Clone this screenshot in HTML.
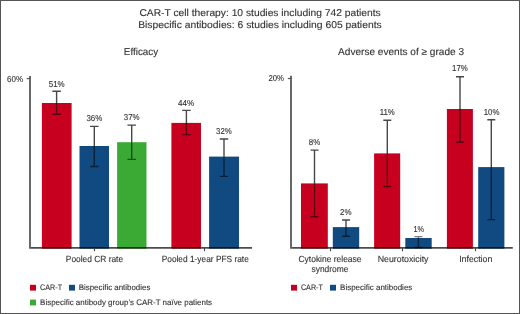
<!DOCTYPE html>
<html><head><meta charset="utf-8"><style>
html,body{margin:0;padding:0;background:#fff;}
#c{position:relative;width:518px;height:312px;border:1px solid #555;background:#fff;overflow:hidden;}
text{stroke:#333;stroke-width:0.12;}
svg{position:absolute;left:-1px;top:-1px;will-change:transform;text-rendering:geometricPrecision;font-family:"Liberation Sans",sans-serif;}
</style></head><body><div id="c">
<svg width="520" height="314" viewBox="0 0 520 314">
<text x="139.4" y="15.6" font-size="9.9" text-anchor="start" fill="#333333" textLength="241.3" lengthAdjust="spacingAndGlyphs">CAR-T cell therapy: 10 studies including 742 patients</text>
<text x="138.2" y="27.7" font-size="9.9" text-anchor="start" fill="#333333" textLength="243.5" lengthAdjust="spacingAndGlyphs">Bispecific antibodies: 6 studies including 605 patients</text>
<text x="123.8" y="55" font-size="10" text-anchor="start" fill="#333333" textLength="34.4" lengthAdjust="spacingAndGlyphs">Efficacy</text>
<text x="338.1" y="55" font-size="10" text-anchor="start" fill="#333333" textLength="125.9" lengthAdjust="spacingAndGlyphs">Adverse events of &#8805; grade 3</text>
<text x="7" y="81.5" font-size="8.6" text-anchor="start" fill="#333333" textLength="16" lengthAdjust="spacingAndGlyphs">60%</text>
<rect x="41.9" y="103.0" width="29.70" height="145.60" fill="#c70020"/>
<rect x="79.5" y="146" width="29.50" height="102.60" fill="#104a81"/>
<rect x="117.1" y="142.2" width="29.40" height="106.40" fill="#3aaa35"/>
<rect x="171.4" y="122.9" width="29.60" height="125.70" fill="#c70020"/>
<rect x="209.1" y="156.6" width="29.90" height="92.00" fill="#104a81"/>
<path d="M52.35 91.3H60.85M56.6 91.3V103.0" fill="none" stroke="#000" stroke-opacity="0.72" stroke-width="1.4"/><path d="M56.6 103.0V114.3M52.35 114.3H60.85" fill="none" stroke="#000" stroke-opacity="0.55" stroke-width="1.4"/>
<path d="M90.05 126.4H98.55M94.3 126.4V146" fill="none" stroke="#000" stroke-opacity="0.72" stroke-width="1.4"/><path d="M94.3 146V166.5M90.05 166.5H98.55" fill="none" stroke="#000" stroke-opacity="0.55" stroke-width="1.4"/>
<path d="M127.45 125.1H135.95M131.7 125.1V142.2" fill="none" stroke="#000" stroke-opacity="0.72" stroke-width="1.4"/><path d="M131.7 142.2V159.4M127.45 159.4H135.95" fill="none" stroke="#000" stroke-opacity="0.55" stroke-width="1.4"/>
<path d="M182.15 110.4H190.65M186.4 110.4V122.9" fill="none" stroke="#000" stroke-opacity="0.72" stroke-width="1.4"/><path d="M186.4 122.9V134.6M182.15 134.6H190.65" fill="none" stroke="#000" stroke-opacity="0.55" stroke-width="1.4"/>
<path d="M219.75 139H228.25M224.0 139V156.6" fill="none" stroke="#000" stroke-opacity="0.72" stroke-width="1.4"/><path d="M224.0 156.6V176.4M219.75 176.4H228.25" fill="none" stroke="#000" stroke-opacity="0.55" stroke-width="1.4"/>
<text x="48.7" y="86.5" font-size="8.6" text-anchor="start" fill="#333333" textLength="16.0" lengthAdjust="spacingAndGlyphs">51%</text>
<text x="86.4" y="121.2" font-size="8.6" text-anchor="start" fill="#333333" textLength="15.9" lengthAdjust="spacingAndGlyphs">36%</text>
<text x="123.8" y="120.3" font-size="8.6" text-anchor="start" fill="#333333" textLength="15.8" lengthAdjust="spacingAndGlyphs">37%</text>
<text x="178.1" y="105.9" font-size="8.6" text-anchor="start" fill="#333333" textLength="16.2" lengthAdjust="spacingAndGlyphs">44%</text>
<text x="216.1" y="133.9" font-size="8.6" text-anchor="start" fill="#333333" textLength="15.7" lengthAdjust="spacingAndGlyphs">32%</text>
<text x="65.8" y="262" font-size="8.9" text-anchor="start" fill="#333333" textLength="57.3" lengthAdjust="spacingAndGlyphs">Pooled CR rate</text>
<text x="161.7" y="262" font-size="8.9" text-anchor="start" fill="#333333" textLength="87.1" lengthAdjust="spacingAndGlyphs">Pooled 1-year PFS rate</text>
<text x="268.5" y="81.1" font-size="8.6" text-anchor="start" fill="#333333" textLength="15.5" lengthAdjust="spacingAndGlyphs">20%</text>
<rect x="301" y="183.4" width="26.80" height="65.20" fill="#c70020"/>
<rect x="332.8" y="227.1" width="26.40" height="21.50" fill="#104a81"/>
<rect x="374.1" y="153.4" width="26.10" height="95.20" fill="#c70020"/>
<rect x="405.3" y="238.0" width="26.40" height="10.60" fill="#104a81"/>
<rect x="446.9" y="109" width="26.00" height="139.60" fill="#c70020"/>
<rect x="478.2" y="167.1" width="26.20" height="81.50" fill="#104a81"/>
<path d="M310.50 150.1H318.50M314.5 150.1V183.4" fill="none" stroke="#000" stroke-opacity="0.72" stroke-width="1.4"/><path d="M314.5 183.4V216.8M310.50 216.8H318.50" fill="none" stroke="#000" stroke-opacity="0.55" stroke-width="1.4"/>
<path d="M342.00 220H350.00M346.0 220V227.1" fill="none" stroke="#000" stroke-opacity="0.72" stroke-width="1.4"/><path d="M346.0 227.1V236.3M342.00 236.3H350.00" fill="none" stroke="#000" stroke-opacity="0.55" stroke-width="1.4"/>
<path d="M383.30 120.3H391.30M387.3 120.3V153.4" fill="none" stroke="#000" stroke-opacity="0.72" stroke-width="1.4"/><path d="M387.3 153.4V186.5M383.30 186.5H391.30" fill="none" stroke="#000" stroke-opacity="0.55" stroke-width="1.4"/>
<path d="M414.40 236.6H422.40M418.4 236.6V238.0" fill="none" stroke="#000" stroke-opacity="0.5" stroke-width="1.4"/><path d="M418.4 238.0V247.5M414.40 247.5H422.40" fill="none" stroke="#000" stroke-opacity="0.55" stroke-width="1.4"/>
<path d="M456.00 76.7H464.00M460.0 76.7V109" fill="none" stroke="#000" stroke-opacity="0.72" stroke-width="1.4"/><path d="M460.0 109V142.2M456.00 142.2H464.00" fill="none" stroke="#000" stroke-opacity="0.55" stroke-width="1.4"/>
<path d="M487.30 119.8H495.30M491.3 119.8V167.1" fill="none" stroke="#000" stroke-opacity="0.72" stroke-width="1.4"/><path d="M491.3 167.1V219.6M487.30 219.6H495.30" fill="none" stroke="#000" stroke-opacity="0.55" stroke-width="1.4"/>
<text x="308.8" y="145.3" font-size="8.6" text-anchor="start" fill="#333333" textLength="11.4" lengthAdjust="spacingAndGlyphs">8%</text>
<text x="340" y="215" font-size="8.6" text-anchor="start" fill="#333333" textLength="11.5" lengthAdjust="spacingAndGlyphs">2%</text>
<text x="379.7" y="115.2" font-size="8.6" text-anchor="start" fill="#333333" textLength="15.1" lengthAdjust="spacingAndGlyphs">11%</text>
<text x="413.5" y="231.7" font-size="8.6" text-anchor="start" fill="#333333" textLength="10.6" lengthAdjust="spacingAndGlyphs">1%</text>
<text x="452.1" y="71.1" font-size="8.6" text-anchor="start" fill="#333333" textLength="15.7" lengthAdjust="spacingAndGlyphs">17%</text>
<text x="483.7" y="115" font-size="8.6" text-anchor="start" fill="#333333" textLength="15.7" lengthAdjust="spacingAndGlyphs">10%</text>
<text x="298.5" y="262.3" font-size="8.9" text-anchor="start" fill="#333333" textLength="63" lengthAdjust="spacingAndGlyphs">Cytokine release</text>
<text x="311.5" y="271.5" font-size="8.9" text-anchor="start" fill="#333333" textLength="37" lengthAdjust="spacingAndGlyphs">syndrome</text>
<text x="377.7" y="262" font-size="8.9" text-anchor="start" fill="#333333" textLength="50.8" lengthAdjust="spacingAndGlyphs">Neurotoxicity</text>
<text x="459.2" y="262" font-size="8.9" text-anchor="start" fill="#333333" textLength="33.1" lengthAdjust="spacingAndGlyphs">Infection</text>
<rect x="30" y="284.8" width="6.00" height="5.80" fill="#c70020"/>
<text x="40.1" y="289.8" font-size="8" text-anchor="start" fill="#333333" textLength="22" lengthAdjust="spacingAndGlyphs" stroke-width="0.15">CAR-T</text>
<rect x="69" y="284.8" width="6.00" height="5.80" fill="#104a81"/>
<text x="78.7" y="289.8" font-size="8" text-anchor="start" fill="#333333" textLength="71.7" lengthAdjust="spacingAndGlyphs" stroke-width="0.15">Bispecific antibodies</text>
<rect x="30" y="299.6" width="6.00" height="5.80" fill="#3aaa35"/>
<text x="40.1" y="304.5" font-size="8" text-anchor="start" fill="#333333" textLength="172" lengthAdjust="spacingAndGlyphs" stroke-width="0.15">Bispecific antibody group&#8217;s CAR-T na&#239;ve patients</text>
<rect x="291" y="284.8" width="6.00" height="5.80" fill="#c70020"/>
<text x="300.9" y="289.8" font-size="8" text-anchor="start" fill="#333333" textLength="22" lengthAdjust="spacingAndGlyphs" stroke-width="0.15">CAR-T</text>
<rect x="330" y="284.8" width="6.00" height="5.80" fill="#104a81"/>
<text x="340.1" y="289.8" font-size="8" text-anchor="start" fill="#333333" textLength="72.2" lengthAdjust="spacingAndGlyphs" stroke-width="0.15">Bispecific antibodies</text>
<line x1="30" y1="76" x2="30" y2="248.65" stroke="#000" stroke-opacity="0.7" stroke-width="1.7"/>
<line x1="30.85" y1="247.8" x2="252" y2="247.8" stroke="#000" stroke-opacity="0.7" stroke-width="1.7"/>
<line x1="26.7" y1="78.6" x2="30" y2="78.6" stroke="#555555" stroke-width="1.2"/>
<line x1="94.5" y1="248" x2="94.5" y2="251.2" stroke="#444" stroke-width="1.1"/>
<line x1="204.5" y1="248" x2="204.5" y2="251.2" stroke="#444" stroke-width="1.1"/>
<line x1="291" y1="75.8" x2="291" y2="248.65" stroke="#000" stroke-opacity="0.7" stroke-width="1.7"/>
<line x1="291.85" y1="247.8" x2="512.8" y2="247.8" stroke="#000" stroke-opacity="0.7" stroke-width="1.7"/>
<line x1="287.8" y1="78.5" x2="291" y2="78.5" stroke="#555555" stroke-width="1.2"/>
<line x1="330.5" y1="248" x2="330.5" y2="251.2" stroke="#444" stroke-width="1.1"/>
<line x1="402.5" y1="248" x2="402.5" y2="251.2" stroke="#444" stroke-width="1.1"/>
<line x1="475.5" y1="248" x2="475.5" y2="251.2" stroke="#444" stroke-width="1.1"/>
</svg></div></body></html>
